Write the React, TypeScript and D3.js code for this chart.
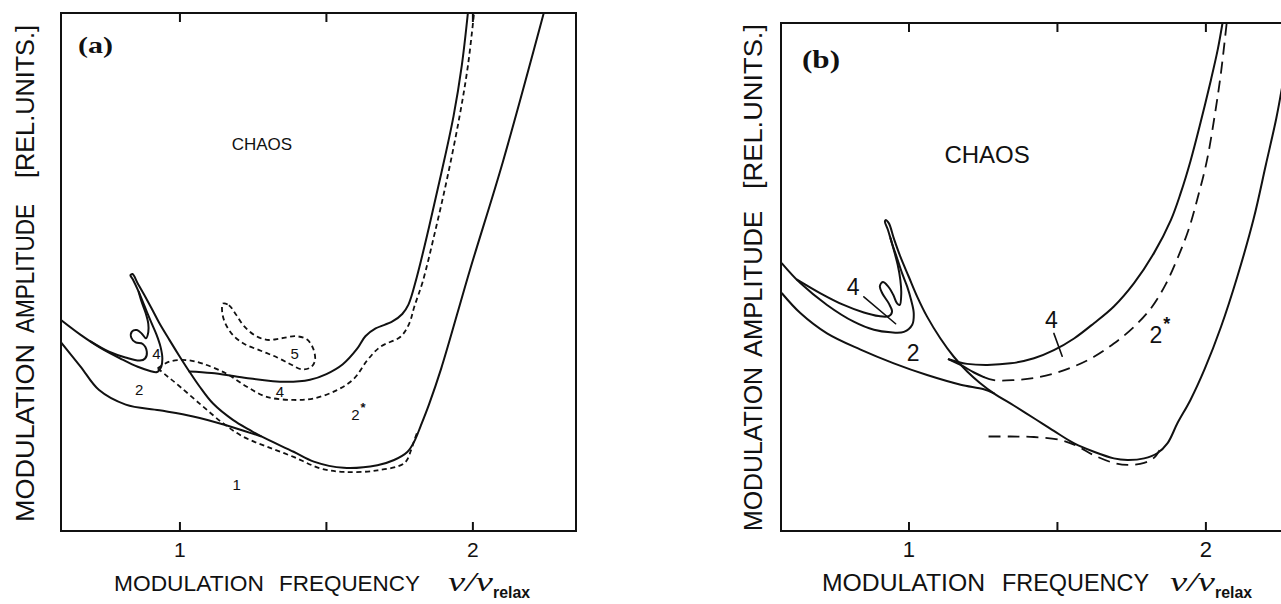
import React from 'react';
import * as d3 from 'd3';

type P = [number, number];

// ---------- Panel (a) data (x: ν/ν_relax, y: relative amplitude 0..1) ----------
const aOuter: P[] = [[0.590,0.409],[0.660,0.379],[0.730,0.353],[0.800,0.332],[0.856,0.317],[0.898,0.309],[0.922,0.307],[0.936,0.317],[0.940,0.333],[0.934,0.355],[0.920,0.379],[0.901,0.404],[0.880,0.433],[0.859,0.462],[0.839,0.486],[0.831,0.494],[0.838,0.496],[0.856,0.478],[0.878,0.456],[0.903,0.430],[0.930,0.401],[0.964,0.369],[0.999,0.337],[1.032,0.308],[1.067,0.279],[1.113,0.246],[1.182,0.214],[1.238,0.195],[1.276,0.183],[1.388,0.153],[1.457,0.134],[1.559,0.122],[1.674,0.127],[1.731,0.137],[1.777,0.153],[1.800,0.173],[1.822,0.203],[1.850,0.244],[1.892,0.314],[1.990,0.504],[2.102,0.712],[2.242,1.000]];
const aInner: P[] = [[0.695,0.366],[0.758,0.346],[0.814,0.335],[0.863,0.329],[0.881,0.333],[0.887,0.346],[0.873,0.361],[0.849,0.364],[0.834,0.373],[0.836,0.385],[0.853,0.388],[0.870,0.381],[0.884,0.372],[0.892,0.384],[0.892,0.400],[0.884,0.419],[0.870,0.441],[0.859,0.462]];
const aLower: P[] = [[0.590,0.367],[0.660,0.318],[0.724,0.272],[0.815,0.244],[0.930,0.233],[1.045,0.221],[1.158,0.204],[1.220,0.193],[1.276,0.183]];
const aChaos: P[] = [[1.032,0.308],[1.108,0.305],[1.220,0.296],[1.360,0.288],[1.444,0.292],[1.500,0.303],[1.556,0.322],[1.605,0.352],[1.633,0.376],[1.668,0.391],[1.724,0.404],[1.759,0.419],[1.780,0.437],[1.808,0.489],[1.850,0.586],[1.892,0.690],[1.934,0.801],[1.962,0.898],[1.983,1.0]];
const aDashUpper: P[] = [[0.924,0.314],[0.964,0.327],[1.021,0.330],[1.078,0.323],[1.158,0.304],[1.227,0.279],[1.296,0.259],[1.388,0.253],[1.457,0.256],[1.536,0.272],[1.594,0.294],[1.640,0.330],[1.685,0.356],[1.753,0.375],[1.783,0.401],[1.800,0.433],[1.829,0.482],[1.871,0.578],[1.913,0.683],[1.955,0.802],[1.983,0.898],[2.004,1.0]];
const aDashLower: P[] = [[0.924,0.314],[0.954,0.300],[0.987,0.285],[1.067,0.246],[1.147,0.208],[1.216,0.182],[1.296,0.163],[1.388,0.143],[1.479,0.121],[1.559,0.114],[1.674,0.117],[1.766,0.131],[1.789,0.156],[1.800,0.175],[1.811,0.192]];
const aLoop5: P[] = [[1.147,0.439],[1.167,0.436],[1.190,0.419],[1.218,0.396],[1.255,0.378],[1.297,0.369],[1.346,0.372],[1.395,0.376],[1.433,0.370],[1.455,0.352],[1.461,0.329],[1.447,0.316],[1.416,0.312],[1.377,0.322],[1.332,0.335],[1.276,0.348],[1.220,0.361],[1.181,0.378],[1.154,0.402],[1.144,0.424]];
const aRegionLabels = [
  { t: 'CHAOS', x: 1.280, y: 0.747, big: true },
  { t: '4', x: 0.920, y: 0.343 },
  { t: '2', x: 0.861, y: 0.274 },
  { t: '4', x: 1.341, y: 0.269 },
  { t: '5', x: 1.392, y: 0.343 },
  { t: '2', x: 1.609, y: 0.224, star: true },
  { t: '1', x: 1.194, y: 0.089 },
];

// ---------- Panel (b) data ----------
const bOuter: P[] = [[0.572,0.527],[0.634,0.488],[0.724,0.445],[0.814,0.412],[0.882,0.396],[0.938,0.391],[0.983,0.392],[1.011,0.406],[1.016,0.429],[1.007,0.455],[0.994,0.481],[0.977,0.507],[0.960,0.537],[0.943,0.566],[0.929,0.593],[0.919,0.609],[0.921,0.612],[0.932,0.606],[0.949,0.576],[0.971,0.540],[0.999,0.501],[1.028,0.461],[1.061,0.422],[1.106,0.379],[1.151,0.343],[1.196,0.314],[1.238,0.292],[1.286,0.271],[1.353,0.247],[1.421,0.222],[1.488,0.197],[1.555,0.173],[1.623,0.156],[1.690,0.143],[1.736,0.140],[1.792,0.143],[1.836,0.153],[1.871,0.173],[1.904,0.212],[1.948,0.258],[1.996,0.319],[2.051,0.402],[2.106,0.501],[2.161,0.615],[2.202,0.721],[2.237,0.812],[2.255,0.868],[2.285,0.964],[2.296,1.0]];
const bInner: P[] = [[0.623,0.495],[0.702,0.468],[0.780,0.445],[0.848,0.430],[0.898,0.423],[0.932,0.423],[0.943,0.432],[0.932,0.448],[0.910,0.468],[0.902,0.482],[0.912,0.490],[0.929,0.482],[0.947,0.465],[0.960,0.448],[0.969,0.445],[0.974,0.468],[0.971,0.494],[0.962,0.524],[0.949,0.553],[0.938,0.576]];
const bLower: P[] = [[0.572,0.468],[0.634,0.429],[0.724,0.389],[0.837,0.357],[0.949,0.330],[1.061,0.307],[1.174,0.288],[1.252,0.279],[1.286,0.271]];
const bChaos: P[] = [[1.134,0.338],[1.163,0.333],[1.196,0.329],[1.264,0.327],[1.342,0.330],[1.421,0.340],[1.488,0.356],[1.556,0.379],[1.623,0.409],[1.690,0.442],[1.758,0.488],[1.825,0.547],[1.882,0.612],[1.915,0.665],[1.948,0.728],[1.982,0.804],[2.017,0.888],[2.040,0.948],[2.056,1.0]];
const bLower4Solid: P[] = [[1.134,0.338],[1.174,0.327],[1.219,0.312],[1.252,0.303]];
const bLower4Dash: P[] = [[1.252,0.303],[1.286,0.297],[1.353,0.297],[1.421,0.301],[1.488,0.310],[1.556,0.324],[1.623,0.343],[1.690,0.369],[1.758,0.402],[1.817,0.440],[1.865,0.486],[1.906,0.539],[1.941,0.592],[1.971,0.653],[2.003,0.728],[2.030,0.819],[2.051,0.903],[2.070,1.0]];
const bDashLower: P[] = [[1.268,0.186],[1.342,0.186],[1.421,0.185],[1.511,0.179],[1.567,0.167],[1.623,0.149],[1.690,0.134],[1.736,0.130],[1.792,0.134],[1.825,0.144],[1.844,0.159]];
const bLeader1: P[] = [[0.848,0.461],[0.955,0.408]];
const bLeader2: P[] = [[1.488,0.389],[1.516,0.344]];
const bRegionLabels = [
  { t: 'CHAOS', x: 1.263, y: 0.742, big: true },
  { t: '4', x: 0.812, y: 0.481 },
  { t: '2', x: 1.014, y: 0.350 },
  { t: '4', x: 1.480, y: 0.415 },
  { t: '2', x: 1.845, y: 0.386, star: true },
];

// ---------- axes ----------
const xTickValues = [1, 1.5, 2];
const xTickLabels = [{ v: 1, t: '1' }, { v: 2, t: '2' }];
const yLabelWords = ['MODULATION', 'AMPLITUDE', '[REL.UNITS.]'];
const xLabelWords = ['MODULATION', 'FREQUENCY'];

const SANS = "'Liberation Sans', Arial, Helvetica, sans-serif";
const SERIF = "'Liberation Serif', 'Times New Roman', serif";
const INK = '#111';

interface Cfg {
  id: string; tag: string; tagX: number; tagY: number; tagSize: number; tagLen: number;
  left: number; right: number; top: number; bottom: number; xDomain: [number, number];
  dash: string; numSize: number; chaosSize: number; starDx: number; starDy: number; starSize: number;
  solids: P[][]; dashed: P[][]; closedDashed: P[][]; leaders: P[][];
  labels: { t: string; x: number; y: number; big?: boolean; star?: boolean }[];
  tickSize: number;
  yLabX: number; yLabSize: number; yWords: { start: number; len: number }[];
  xLabSize: number; xWords: { start: number; len: number }[]; xLabY: number;
  nuX: number; nuLen: number; relaxLen: number;
}

const cfgA: Cfg = {
  id: 'a', tag: '(a)', tagX: 78, tagY: 53, tagSize: 23, tagLen: 35,
  left: 61, right: 576, top: 13, bottom: 531, xDomain: [0.594, 2.352],
  dash: '5,3.5', numSize: 15, chaosSize: 17, starDx: 1, starDy: -8, starSize: 13,
  solids: [aOuter, aInner, aLower, aChaos], dashed: [aDashUpper, aDashLower], closedDashed: [aLoop5], leaders: [],
  labels: aRegionLabels, tickSize: 21,
  yLabX: 34, yLabSize: 25, yWords: [{ start: 522, len: 178 }, { start: 333, len: 129 }, { start: 178, len: 153 }],
  xLabSize: 22.5, xWords: [{ start: 114, len: 150 }, { start: 279, len: 141 }], xLabY: 591,
  nuX: 448, nuLen: 45, relaxLen: 37,
};

const cfgB: Cfg = {
  id: 'b', tag: '(b)', tagX: 802, tagY: 68, tagSize: 26, tagLen: 38,
  left: 781, right: 1311, top: 23, bottom: 531, xDomain: [0.569, 2.354],
  dash: '12,7', numSize: 23, chaosSize: 24, starDx: 1, starDy: -11, starSize: 18,
  solids: [bOuter, bInner, bLower, bChaos, bLower4Solid], dashed: [bLower4Dash, bDashLower], closedDashed: [], leaders: [bLeader1, bLeader2],
  labels: bRegionLabels, tickSize: 22,
  yLabX: 762, yLabSize: 25, yWords: [{ start: 531, len: 164 }, { start: 357, len: 146 }, { start: 189, len: 165 }],
  xLabSize: 24, xWords: [{ start: 822, len: 163 }, { start: 1002, len: 147 }], xLabY: 591,
  nuX: 1170, nuLen: 45, relaxLen: 37,
};

function Panel({ c }: { c: Cfg }) {
  const x = d3.scaleLinear().domain(c.xDomain).range([c.left, c.right]);
  const y = d3.scaleLinear().domain([0, 1]).range([c.bottom, c.top]);
  const smooth = d3.line<P>().x(d => x(d[0])).y(d => y(d[1])).curve(d3.curveCatmullRom.alpha(0.5));
  const closed = d3.line<P>().x(d => x(d[0])).y(d => y(d[1])).curve(d3.curveCatmullRomClosed.alpha(0.5));
  const straight = d3.line<P>().x(d => x(d[0])).y(d => y(d[1]));
  const clip = `clip-${c.id}`;
  return (
    <g>
      <defs>
        <clipPath id={clip}>
          <rect x={c.left} y={c.top} width={c.right - c.left} height={c.bottom - c.top} />
        </clipPath>
      </defs>
      <g clipPath={`url(#${clip})`} fill="none" stroke={INK} strokeLinejoin="round" strokeLinecap="round">
        {c.solids.map((s, i) => <path key={'s' + i} d={smooth(s) || ''} strokeWidth={2} />)}
        {c.dashed.map((s, i) => <path key={'d' + i} d={smooth(s) || ''} strokeWidth={1.8} strokeDasharray={c.dash} strokeLinecap="butt" />)}
        {c.closedDashed.map((s, i) => <path key={'c' + i} d={closed(s) || ''} strokeWidth={1.8} strokeDasharray={c.dash} strokeLinecap="butt" />)}
        {c.leaders.map((s, i) => <path key={'l' + i} d={straight(s) || ''} strokeWidth={1.6} />)}
      </g>
      <rect x={c.left} y={c.top} width={c.right - c.left} height={c.bottom - c.top} fill="none" stroke={INK} strokeWidth={2} />
      {xTickValues.map(v => (
        <g key={'t' + v} stroke={INK} strokeWidth={2}>
          <line x1={x(v)} x2={x(v)} y1={c.bottom} y2={c.bottom - 9} />
          <line x1={x(v)} x2={x(v)} y1={c.top} y2={c.top + 9} />
        </g>
      ))}
      {xTickLabels.map(t => (
        <text key={'tl' + t.v} x={x(t.v)} y={557} textAnchor="middle" fontFamily={SANS} fontSize={c.tickSize} fill={INK}>{t.t}</text>
      ))}
      {c.labels.map((l, i) => (
        <text key={'r' + i} x={x(l.x)} y={y(l.y)} textAnchor="middle" dominantBaseline="central"
          fontFamily={SANS} fontSize={l.big ? c.chaosSize : c.numSize} fill={INK}>
          {l.t}
          {l.star ? <tspan dx={c.starDx} dy={c.starDy} fontSize={c.starSize} fontWeight="bold">*</tspan> : null}
        </text>
      ))}
      <text x={c.tagX} y={c.tagY} fontFamily={SERIF} fontSize={c.tagSize} fontWeight="bold" fill={INK}
        textLength={c.tagLen} lengthAdjust="spacingAndGlyphs">{c.tag}</text>
      {yLabelWords.map((w, i) => (
        <text key={'y' + i} transform={`translate(${c.yLabX},${c.yWords[i].start}) rotate(-90)`}
          fontFamily={SANS} fontSize={c.yLabSize} fill={INK}
          textLength={c.yWords[i].len} lengthAdjust="spacingAndGlyphs">{w}</text>
      ))}
      {xLabelWords.map((w, i) => (
        <text key={'x' + i} x={c.xWords[i].start} y={c.xLabY} fontFamily={SANS} fontSize={c.xLabSize} fill={INK}
          textLength={c.xWords[i].len} lengthAdjust="spacingAndGlyphs">{w}</text>
      ))}
      <text x={c.nuX} y={c.xLabY} fontFamily={SERIF} fontStyle="italic" fontSize={28} fill={INK}
        textLength={c.nuLen} lengthAdjust="spacingAndGlyphs">ν/ν</text>
      <text x={c.nuX + c.nuLen} y={c.xLabY + 7} fontFamily={SANS} fontWeight="bold" fontSize={17} fill={INK}
        textLength={c.relaxLen} lengthAdjust="spacingAndGlyphs">relax</text>
    </g>
  );
}

export default function App() {
  return (
    <div style={{ position: 'absolute', left: 0, top: 0, width: 1281, height: 604, background: '#fff' }}>
      <svg width={1281} height={604} viewBox="0 0 1281 604" style={{ display: 'block' }}>
        <rect x={0} y={0} width={1281} height={604} fill="#fff" />
        <Panel c={cfgA} />
        <Panel c={cfgB} />
      </svg>
    </div>
  );
}
